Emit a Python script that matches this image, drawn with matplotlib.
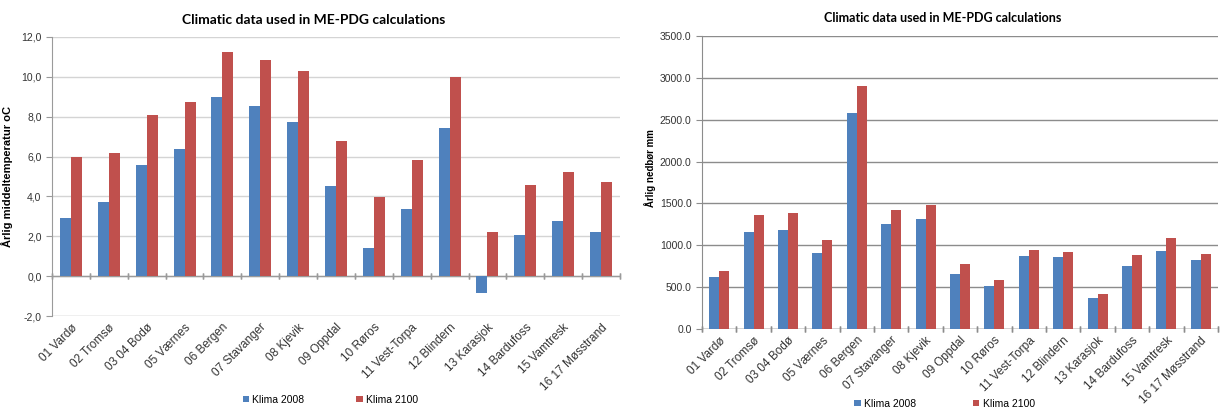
import numpy as np
import matplotlib.pyplot as plt
from matplotlib.ticker import FuncFormatter

stations = ["01 Vardø", "02 Tromsø", "03 04 Bodø", "05 Værnes", "06 Bergen",
            "07 Stavanger", "08 Kjevik", "09 Oppdal", "10 Røros", "11 Vest-Torpa",
            "12 Blindern", "13 Karasjok", "14 Bardufoss", "15 Vamtresk", "16 17 Møsstrand"]

temp_2008 = [2.9, 3.7, 5.6, 6.4, 9.0, 8.55, 7.75, 4.5, 1.4, 3.35, 7.45, -0.85, 2.05, 2.75, 2.2]
temp_2100 = [6.0, 6.2, 8.1, 8.75, 11.25, 10.85, 10.3, 6.8, 3.95, 5.85, 10.0, 2.2, 4.55, 5.25, 4.7]

rain_2008 = [620, 1160, 1185, 905, 2575, 1255, 1310, 660, 515, 870, 855, 365, 755, 935, 825]
rain_2100 = [690, 1360, 1390, 1060, 2905, 1420, 1485, 775, 580, 940, 925, 415, 880, 1085, 900]

blue = "#4F81BD"
red = "#C0504D"
plt.rcParams['font.family'] = ['Liberation Sans', 'DejaVu Sans']

fig = plt.figure(figsize=(12.22, 4.12), dpi=100)
ax1 = fig.add_axes([52 / 1222, 96 / 412, 568 / 1222, 279 / 412])
ax2 = fig.add_axes([702 / 1222, 83 / 412, 516 / 1222, 293 / 412])

x = np.arange(len(stations))
w = 0.29


def style(ax, grid_color, spine_color):
    for s in ["top", "right", "bottom"]:
        ax.spines[s].set_visible(False)
    ax.spines["left"].set_color(spine_color)
    ax.yaxis.grid(True, color=grid_color, linewidth=1)
    ax.set_axisbelow(True)
    ax.tick_params(axis="y", length=4, color=spine_color, labelsize=7.5, labelcolor="#333333")
    ax.tick_params(axis="x", length=0, labelsize=8.5, labelcolor="#333333", pad=4)
    ax.set_xticks(x)
    ax.set_xticklabels(stations, rotation=45, ha="right", rotation_mode="anchor")
    ax.set_xlim(-0.5, len(stations) - 0.5)
    ax.axhline(0, color=spine_color, linewidth=1, zorder=1)
    # category separator ticks on the zero line
    for b in np.arange(-0.5, len(stations), 1.0):
        ax.plot([b, b], [0, 0], marker="|", markersize=4, color=spine_color, clip_on=False)


# left chart
ax1.bar(x - w / 2, temp_2008, w, color=blue, label="Klima 2008", zorder=2)
ax1.bar(x + w / 2, temp_2100, w, color=red, label="Klima 2100", zorder=2)
ax1.set_ylim(-2, 12)
ax1.set_yticks(np.arange(-2, 12.1, 2))
ax1.yaxis.set_major_formatter(FuncFormatter(lambda v, p: f"{v:.1f}".replace(".", ",")))
style(ax1, "#d4d4d4", "#9a9a9a")
ax1.axhline(-2, color="#d4d4d4", linewidth=1, zorder=1)
ax1.set_ylabel("Årlig middeltemperatur oC", fontsize=8, fontweight="bold", labelpad=6)
ax1.set_title("Climatic data used in ME-PDG calculations", family=["Lato", "DejaVu Sans"],
              fontsize=10, fontweight="bold", pad=9, x=0.46)
ax1.legend(loc="center", bbox_to_anchor=(0.49, -0.30), ncol=2, frameon=False,
           fontsize=7.5, handlelength=0.6, handleheight=0.6, columnspacing=5, handletextpad=0.3)

# right chart
ax2.bar(x - w / 2, rain_2008, w, color=blue, label="Klima 2008", zorder=2)
ax2.bar(x + w / 2, rain_2100, w, color=red, label="Klima 2100", zorder=2)
ax2.set_ylim(0, 3500)
ax2.set_yticks(np.arange(0, 3501, 500))
ax2.yaxis.set_major_formatter(FuncFormatter(lambda v, p: f"{v:.1f}"))
style(ax2, "#8c8c8c", "#8c8c8c")
ax2.set_ylabel("Årlig nedbør mm", fontsize=7, fontweight="bold", labelpad=2)
ax2.yaxis.set_label_coords(-0.09, 0.55)
ax2.set_title("Climatic data used in ME-PDG calculations", family=["Lato", "DejaVu Sans"],
              fontsize=9, fontweight="bold", pad=10, x=0.467)
ax2.legend(loc="center", bbox_to_anchor=(0.47, -0.255), ncol=2, frameon=False,
           fontsize=7.5, handlelength=0.6, handleheight=0.6, columnspacing=5.5, handletextpad=0.3)

fig.savefig("out.png", dpi=100)
